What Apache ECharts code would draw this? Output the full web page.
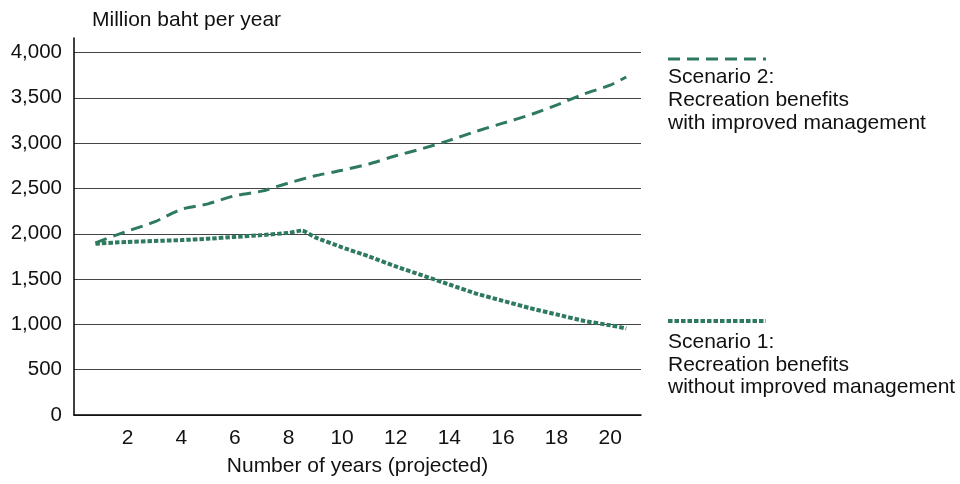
<!DOCTYPE html>
<html>
<head>
<meta charset="utf-8">
<script src="https://cdn.jsdelivr.net/npm/echarts@6/dist/echarts.min.js"></script>
<style>
  html, body { margin: 0; padding: 0; background: #fff; }
  #chart { width: 960px; height: 484px; }
</style>
</head>
<body>
<div id="chart"></div>
<script>
// values (million baht per year)
var yearsS2  = [0.8, 2, 3, 4, 5, 6, 7, 8, 9, 10, 11, 12, 13, 14, 15, 16, 17, 18, 19, 20, 20.6];
var valuesS2 = [1900, 2030, 2130, 2270, 2330, 2420, 2470, 2560, 2640, 2700, 2770, 2860, 2940, 3030, 3130, 3220, 3310, 3420, 3540, 3640, 3730];

var yearsS1  = [0.8, 2, 3, 4, 5, 6, 7, 8, 8.5, 9, 10, 11, 12, 13, 14, 15, 16, 17, 18, 19, 20, 20.6];
var valuesS1 = [1890, 1910, 1920, 1930, 1945, 1965, 1985, 2010, 2035, 1960, 1850, 1750, 1640, 1540, 1440, 1340, 1260, 1180, 1110, 1040, 990, 955];

var yTitle = 'Million baht per year';
var xTitle = 'Number of years (projected)';
var legendS2 = ['Scenario 2:', 'Recreation benefits', 'with improved management'];
var legendS1 = ['Scenario 1:', 'Recreation benefits', 'without improved management'];

var green = '#2e7a5e';
var font = '"Liberation Sans", Arial, sans-serif';

function pairs(xs, ys) {
    var out = [];
    for (var i = 0; i < xs.length; i++) out.push([xs[i], ys[i]]);
    return out;
}

var myChart = echarts.init(document.getElementById('chart'));

var option = {
    animation: false,
    textStyle: { fontFamily: font },
    title: {
        text: yTitle,
        left: 87,
        top: 5,
        textStyle: { fontFamily: font, fontSize: 21, fontWeight: 'normal', color: '#111' }
    },
    grid: { left: 74, right: 319, top: 38, bottom: 69 },
    xAxis: {
        type: 'value',
        min: 0,
        max: 21.15,
        interval: 2,
        name: xTitle,
        nameLocation: 'middle',
        nameGap: 41,
        nameTextStyle: { fontFamily: font, fontSize: 21, color: '#111' },
        axisLine: { lineStyle: { color: '#000', width: 1.5 } },
        axisTick: { show: false },
        splitLine: { show: false },
        axisLabel: {
            showMinLabel: false,
            showMaxLabel: false,
            margin: 13,
            fontFamily: font,
            fontSize: 21,
            color: '#111'
        }
    },
    yAxis: {
        type: 'value',
        min: 0,
        max: 4160,
        interval: 500,
        axisLine: { show: true, lineStyle: { color: '#000', width: 1.5 } },
        axisTick: { show: false },
        splitLine: { showMaxLine: false, lineStyle: { color: '#444', width: 1.2 } },
        axisLabel: {
            showMaxLabel: false,
            margin: 12,
            fontFamily: font,
            fontSize: 20.5,
            color: '#111',
            formatter: function (v) { return v.toLocaleString('en-US'); }
        }
    },
    series: [
        {
            name: legendS2[0],
            type: 'line',
            showSymbol: false,
            smooth: 0.2,
            data: pairs(yearsS2, valuesS2),
            lineStyle: { color: green, width: 3, type: [12, 7] }
        },
        {
            name: legendS1[0],
            type: 'line',
            showSymbol: false,
            smooth: 0.2,
            data: pairs(yearsS1, valuesS1),
            lineStyle: { color: green, width: 4, type: [4.5, 2] }
        }
    ],
    graphic: [
        { type: 'line', shape: { x1: 668, y1: 59, x2: 766, y2: 59 },
          style: { stroke: green, lineWidth: 3, lineDash: [12, 7] } },
        { type: 'text', left: 668, top: 66,
          style: { text: legendS2.join('\n'), font: '21px ' + font, lineHeight: 23, fill: '#111' } },
        { type: 'line', shape: { x1: 668, y1: 321, x2: 766, y2: 321 },
          style: { stroke: green, lineWidth: 4, lineDash: [4.5, 2] } },
        { type: 'text', left: 668, top: 331,
          style: { text: legendS1.join('\n'), font: '21px ' + font, lineHeight: 22.5, fill: '#111' } }
    ]
};

myChart.setOption(option);
</script>
</body>
</html>
